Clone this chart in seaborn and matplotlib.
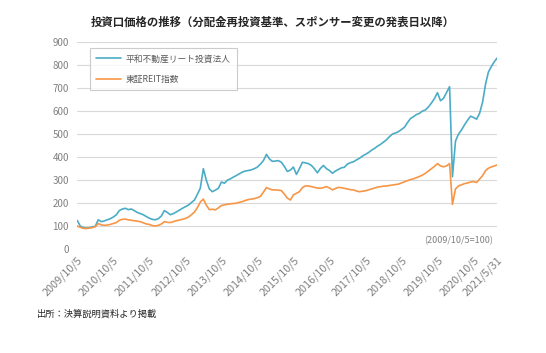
import matplotlib
matplotlib.use("Agg")
import matplotlib.pyplot as plt
import pandas as pd
import seaborn as sns

# monthly readings (5th of each month) plus the final day 2021/5/31
dates = list(pd.date_range("2009-10-05", "2021-05-05", freq=pd.DateOffset(months=1))) + [pd.Timestamp("2021-05-31")]

heiwa = [125, 100, 95, 92, 94, 97, 100, 128, 120, 123,
         128, 133, 140, 150, 168, 175, 178, 172, 175, 168,
         160, 155, 150, 142, 135, 130, 128, 133, 145, 168,
         160, 150, 155, 162, 170, 178, 185, 192, 203, 214,
         240, 265, 350, 300, 262, 250, 257, 265, 292, 287,
         300, 306, 314, 320, 328, 335, 340, 342, 345, 350,
         357, 370, 385, 412, 392, 382, 383, 385, 378, 360,
         338, 344, 357, 325, 350, 378, 375, 372, 364, 350,
         332, 351, 364, 350, 342, 330, 340, 347, 354, 356,
         370, 376, 380, 388, 395, 405, 412, 420, 430, 438,
         448, 455, 465, 475, 489, 500, 505, 511, 520, 530,
         550, 568, 576, 585, 590, 600, 605, 618, 635, 655,
         680, 645, 655, 680, 706, 315, 470, 500, 518, 540,
         560, 578, 572, 565, 590, 640, 720, 770, 795, 815,
         830]

tse_reit = [101, 95, 91, 90, 92, 94, 98, 112, 106, 104,
            105, 108, 112, 116, 126, 130, 131, 128, 126, 124,
            122, 120, 115, 110, 108, 103, 101, 104, 110, 120,
            117, 116, 120, 124, 127, 130, 134, 140, 150, 162,
            182, 205, 218, 192, 172, 174, 171, 180, 190, 193,
            196, 197, 199, 200, 204, 207, 212, 216, 218, 220,
            224, 230, 248, 268, 262, 258, 258, 257, 255, 240,
            222, 214, 236, 243, 250, 268, 275, 275, 272, 269,
            266, 265, 268, 272, 266, 258, 264, 269, 267, 265,
            262, 259, 258, 253, 250, 252, 254, 258, 262, 266,
            270, 272, 274, 275, 277, 279, 281, 283, 288, 293,
            298, 303, 306, 311, 316, 322, 330, 340, 350, 360,
            372, 362, 358, 362, 372, 195, 262, 275, 280, 285,
            288, 292, 294, 290, 305, 320, 342, 352, 358, 362,
            366]

series_names = ["平和不動産リート投資法人", "東証REIT指数"]
tick_dates = [pd.Timestamp(f"{y}-10-05") for y in range(2009, 2021)] + [pd.Timestamp("2021-05-31")]
tick_labels = [f"{y}/10/5" for y in range(2009, 2021)] + ["2021/5/31"]

df = pd.DataFrame({
    "date": dates + dates,
    "value": heiwa + tse_reit,
    "series": [series_names[0]] * len(dates) + [series_names[1]] * len(dates),
})

sns.set_theme(style="white")
plt.rcParams["font.family"] = ["Noto Sans CJK JP", "DejaVu Sans"]

fig = plt.figure(figsize=(5.46, 3.53), dpi=100)
ax = fig.add_axes([0.1416, 0.2938, 0.7687, 0.5872])

sns.lineplot(data=df, x="date", y="value", hue="series",
             palette=["#4BACC6", "#F79646"], linewidth=1.2, ax=ax)

ax.set_xlim(tick_dates[0], tick_dates[-1])
ax.set_ylim(0, 900)
ax.set_yticks(range(0, 901, 100))
ax.set_xticks(tick_dates)
ax.set_xticklabels(tick_labels, rotation=45, ha="right", rotation_mode="anchor")
ax.set_xlabel("")
ax.set_ylabel("")
ax.grid(axis="y", color="#d9d9d9", linewidth=0.8)
ax.grid(axis="x", visible=False)
for s in ax.spines.values():
    s.set_visible(False)
ax.tick_params(axis="y", length=0, pad=6, labelsize=7, labelcolor="#808080")
ax.tick_params(axis="x", length=0, pad=4, labelsize=7.8, labelcolor="#808080")

leg = ax.legend(loc="upper left", bbox_to_anchor=(0.03, 0.97), borderaxespad=0,
                frameon=True, fancybox=False, edgecolor="#bfbfbf", fontsize=6.3,
                handlelength=2.9, handletextpad=0.5, labelspacing=1.3, borderpad=0.7)
leg.get_frame().set_linewidth(0.8)
for t in leg.get_texts():
    t.set_color("#595959")

ax.text(0.99, 0.04, "(2009/10/5=100)", transform=ax.transAxes,
        ha="right", va="center", fontsize=6.5, color="#808080")

fig.text(0.5, 0.938, "投資口価格の推移（分配金再投資基準、スポンサー変更の発表日以降）",
         ha="center", va="center", fontsize=8.2, fontweight="bold", color="#262626")
fig.text(37 / 546, 0.1105, "出所：決算説明資料より掲載", ha="left", va="center",
         fontsize=6.7, color="#262626")

fig.savefig("out.png", dpi=100)
